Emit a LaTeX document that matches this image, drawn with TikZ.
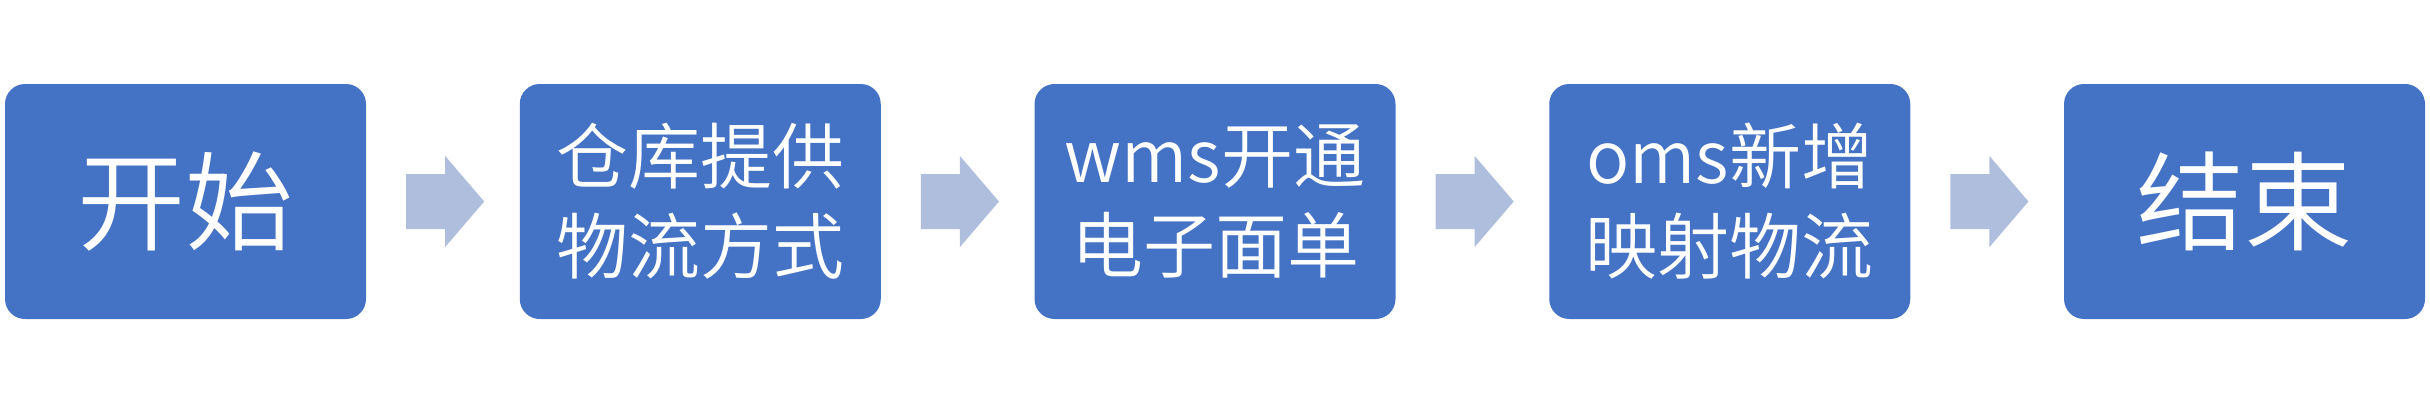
\documentclass[tikz,border=0pt]{standalone}
\usepackage{fontspec}
\IfFontExistsTF{Noto Sans CJK SC DemiLight}{\setmainfont{Noto Sans CJK SC DemiLight}}{\setmainfont{Noto Sans CJK SC}}
\usetikzlibrary{calc}
\definecolor{boxblue}{HTML}{4472C4}
\definecolor{arrowc}{RGB}{176,190,222}
\tikzset{
  stepbox/.style={fill=boxblue, draw=none, rounded corners=20pt, minimum width=361pt, minimum height=235pt, inner sep=0pt, text=white, align=center},
  bigtext/.style={font=\fontsize{108}{120}\selectfont},
  smalltext/.style={font=\fontsize{72}{90}\selectfont},
}
\begin{document}
\begin{tikzpicture}[x=1pt,y=-1pt]
\useasboundingbox (0,0) rectangle (2430,404);
\node[stepbox,bigtext] (b1) at (185.5,201.5) {开始};
\node[stepbox,smalltext] (b2) at (700.25,201.5) {仓库提供\\物流方式};
\node[stepbox,smalltext] (b3) at (1215,201.5) {wms开通\\电子面单};
\node[stepbox,smalltext] (b4) at (1729.75,201.5) {oms新增\\映射物流};
\node[stepbox,bigtext] (b5) at (2244.5,201.5) {结束};
\foreach \a in {b1,b2,b3,b4}{
  \begin{scope}[shift={(\a.east)}]
    \fill[arrowc] (40,-27.5) -- (79,-27.5) -- (79,-45.5) -- (118,0) -- (79,45.5) -- (79,27.5) -- (40,27.5) -- cycle;
  \end{scope}
}
\end{tikzpicture}
\end{document}
